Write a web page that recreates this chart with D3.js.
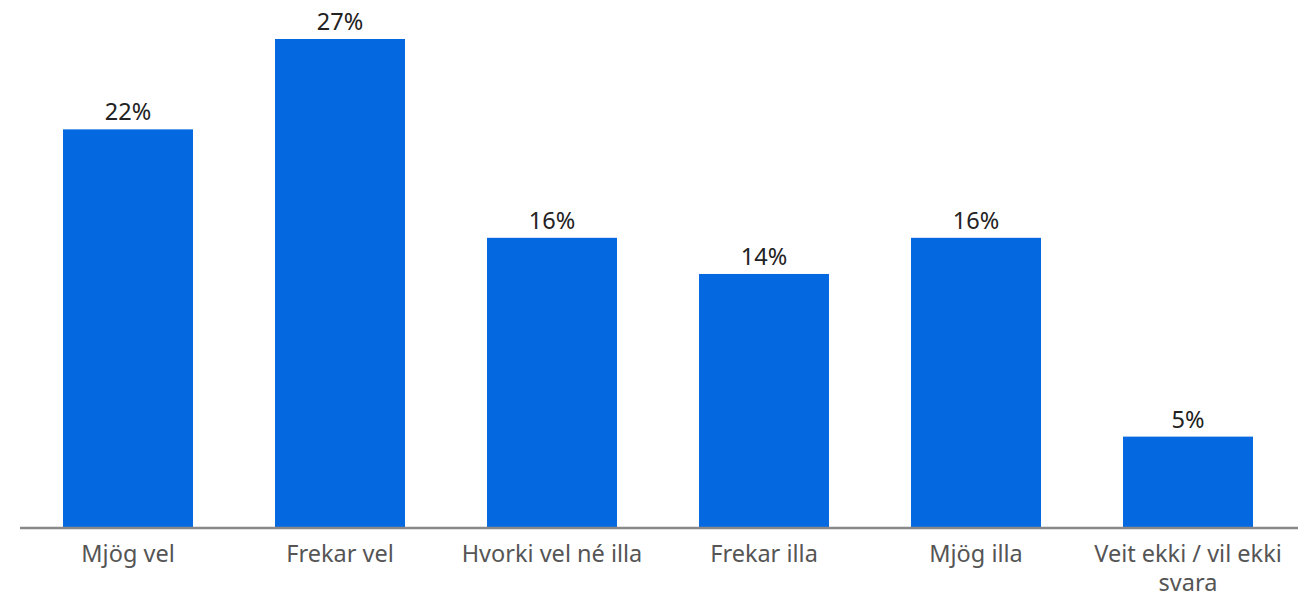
<!DOCTYPE html>
<html>
<head>
<meta charset="utf-8">
<script src="https://cdn.jsdelivr.net/npm/d3@7"></script>
<style>
  body { margin: 0; background: #fff; }
  svg { display: block; font-family: "Noto Sans", "Open Sans", sans-serif; }
</style>
</head>
<body>
<svg id="chart"></svg>
<script>
// data
var categories = ["Mjög vel", "Frekar vel", "Hvorki vel né illa", "Frekar illa", "Mjög illa", "Veit ekki / vil ekki svara"];
var values = [22, 27, 16, 14, 16, 5];
var labelLines = [["Mjög vel"], ["Frekar vel"], ["Hvorki vel né illa"], ["Frekar illa"], ["Mjög illa"], ["Veit ekki / vil ekki", "svara"]];

var width = 1307, height = 600;
var baseY = 527;
var barColor = "#0468e0";

var svg = d3.select("#chart")
  .attr("width", width)
  .attr("height", height);

var x = d3.scaleBand()
  .domain(categories)
  .range([22, 1294])
  .paddingInner(0.387)
  .paddingOuter(0.1935);

var y = d3.scaleLinear()
  .domain([0, 27])
  .range([baseY, 39]);

// bars
svg.selectAll("rect.bar")
  .data(values)
  .enter().append("rect")
  .attr("class", "bar")
  .attr("x", function (d, i) { return x(categories[i]); })
  .attr("width", x.bandwidth())
  .attr("y", function (d) { return y(d); })
  .attr("height", function (d) { return y(0) - y(d); })
  .attr("fill", barColor);

// value labels
svg.selectAll("text.val")
  .data(values)
  .enter().append("text")
  .attr("class", "val")
  .attr("x", function (d, i) { return x(categories[i]) + x.bandwidth() / 2; })
  .attr("y", function (d) { return y(d) - 9; })
  .attr("text-anchor", "middle")
  .attr("font-size", 23.5)
  .attr("fill", "#222")
  .text(function (d) { return d + "%"; });

// axis line
svg.append("line")
  .attr("x1", 20).attr("x2", 1298)
  .attr("y1", baseY + 1).attr("y2", baseY + 1)
  .attr("stroke", "#888")
  .attr("stroke-width", 2.5);

// category labels
var lab = svg.selectAll("text.cat")
  .data(categories)
  .enter().append("text")
  .attr("class", "cat")
  .attr("text-anchor", "middle")
  .attr("font-size", 23.5)
  .attr("fill", "#555")
  .attr("transform", function (d) { return "translate(" + (x(d) + x.bandwidth() / 2) + "," + 562 + ")"; });

lab.selectAll("tspan")
  .data(function (d, i) { return labelLines[i]; })
  .enter().append("tspan")
  .attr("x", 0)
  .attr("dy", function (d, j) { return j === 0 ? 0 : 29; })
  .text(function (d) { return d; });
</script>
</body>
</html>
